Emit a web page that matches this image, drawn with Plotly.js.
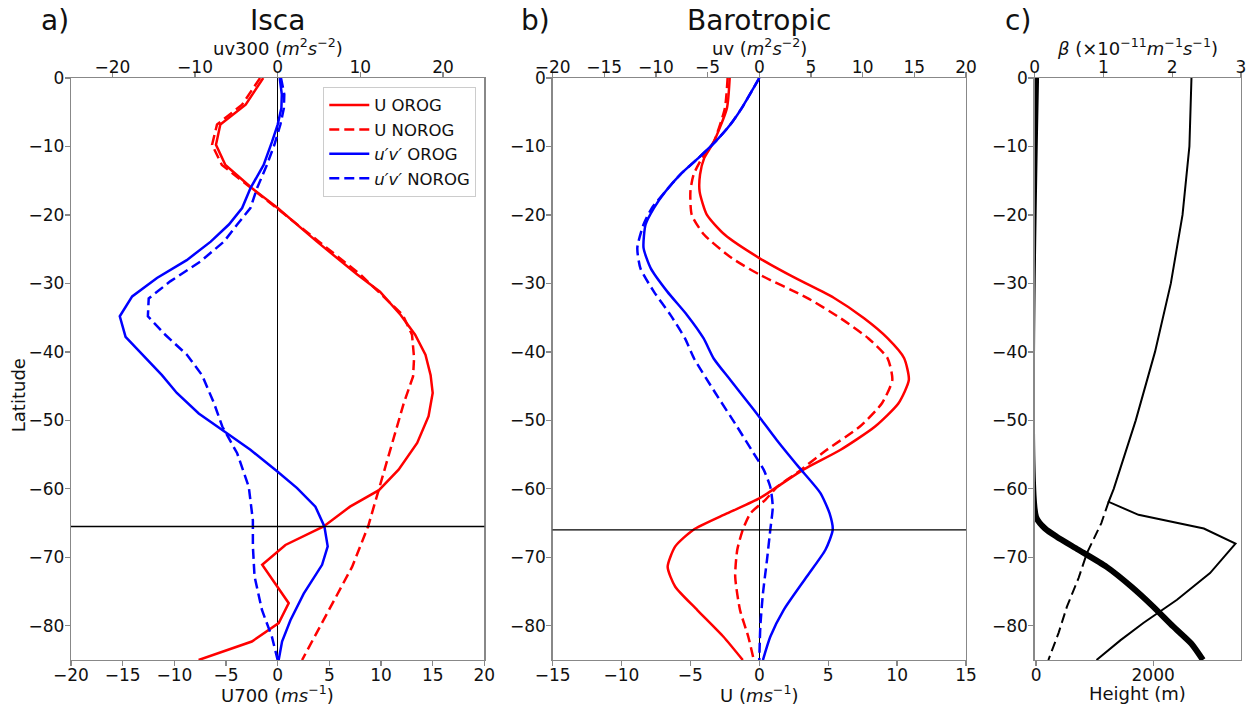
<!DOCTYPE html>
<html>
<head>
<meta charset="utf-8">
<script src="https://cdn.plot.ly/plotly-3.0.1.min.js"></script>
<style>html,body{margin:0;padding:0;background:#fff;}#chart{width:1253px;height:705px;}</style>
</head>
<body>
<div id="chart"></div>
<script>
// ---------- Panel a) Isca ----------
const aLatUOrog   = [0, -3.9, -6.8, -9.75, -12.7, -16.1, -19, -23.9, -28.7, -31.2, -34.6, -37.5, -40.4, -43.4, -46, -49.4, -53.3, -57.2, -60.2, -62.6, -65.5, -68.2, -71.1, -76.7, -79.6, -82.3, -85];
const aUOrog      = [-1.4, -3.1, -5.55, -5.97, -5.06, -2.48, 0, 3.8, 7.7, 9.9, 11.9, 13.3, 14.3, 14.8, 15.0, 14.6, 13.5, 11.7, 9.8, 7.0, 4.45, 0.75, -1.5, 1.07, 0.1, -2.5, -7.65];
const aLatUNorog  = [0, -3.9, -6.8, -9.75, -12.7, -16.1, -19, -23.9, -28.7, -34.6, -37.5, -40.9, -43.6, -47.5, -53.3, -60.2, -65.5, -71.4, -77.7, -85];
const aUNorog     = [-1.7, -3.45, -5.87, -6.35, -5.4, -2.6, -0.1, 4.0, 8.0, 12.1, 13.0, 13.2, 13.1, 12.2, 11.1, 9.8, 8.75, 7.2, 4.95, 2.36];
const aLatUvOrog  = [0, -2.4, -4.4, -6.8, -9.3, -12.7, -16.1, -19, -21.4, -23.9, -26.6, -29.2, -31.9, -34.8, -37.8, -40.9, -43.4, -46, -49, -51.4, -54.3, -57.5, -59.9, -62.6, -65.5, -68.4, -71.1, -75.3, -79.2, -82.3, -85];
const aUvOrog     = [0.25, 0.5, 0.45, 0, -0.68, -1.7, -3.3, -4.3, -5.9, -8.1, -11.0, -14.6, -17.6, -19.1, -18.4, -16.0, -14.0, -12.2, -9.55, -6.7, -3.3, 0, 2.35, 4.56, 5.65, 6.05, 5.37, 3.15, 1.54, 0.53, 0.12];
const aLatUvNorog = [0, -2.4, -4.4, -6.8, -9.75, -12.7, -16.1, -19, -21.4, -23.9, -26.8, -29.7, -32.2, -34.8, -37.5, -40.4, -43.4, -47.5, -50.9, -54.8, -59.7, -64.6, -68.4, -72.8, -77.7, -81.6, -85];
const aUvNorog    = [0.4, 0.8, 0.75, 0.33, -0.4, -1.3, -2.5, -3.3, -4.9, -6.5, -9.35, -13.0, -15.6, -15.7, -13.6, -11.0, -9.15, -7.7, -6.7, -4.9, -3.5, -3.0, -3.0, -2.8, -1.9, -0.7, 0];
const edgeLatA = -65.5;

// ---------- Panel b) Barotropic ----------
const bLatUOrog   = [0, -4.4, -9.3, -11.7, -14.1, -16.6, -20, -22.9, -26.3, -29.2, -32.1, -35.1, -38, -40.9, -44.1, -47.5, -50.9, -54.3, -57.2, -59.7, -61.4, -63.6, -66, -68.4, -71.4, -74.3, -77.7, -81.6, -85];
const bUOrog      = [-2.15, -2.35, -3.3, -4.0, -4.3, -4.33, -3.8, -2.5, 0, 2.6, 5.4, 7.6, 9.3, 10.5, 10.85, 10.1, 8.4, 5.9, 3.2, 1.3, 0, -2.35, -4.8, -6.1, -6.65, -6.1, -4.5, -2.6, -1.2];
const bLatUNorog  = [0, -4.4, -9.3, -11.7, -14.1, -16.6, -20, -22.9, -26.3, -28.7, -32.1, -35.1, -38, -40.9, -44.1, -47.5, -50.9, -54.3, -57.7, -59.7, -61.6, -63.6, -66, -68.9, -72.8, -77.7, -81.6, -85];
const bUNorog     = [-2.3, -2.5, -3.3, -4.15, -4.77, -5.0, -4.9, -4.0, -2.0, 0, 3.46, 5.9, 7.9, 9.3, 9.65, 8.9, 7.3, 4.9, 2.7, 1.3, 0.44, -0.65, -1.2, -1.6, -1.75, -1.4, -0.8, -0.4];
const bLatUvOrog  = [0, -4.4, -6.8, -9.3, -11.7, -14.1, -16.6, -19, -21.4, -24.8, -27.8, -31.2, -34.6, -38, -41, -44.1, -47.5, -49.5, -52.9, -56.8, -60.6, -63.6, -66, -68.9, -72.8, -77.7, -81.6, -85];
const bUvOrog     = [0, -1.7, -2.8, -4.25, -5.9, -7.65, -9.1, -10.2, -11.0, -11.2, -10.5, -8.9, -7.0, -5.4, -4.4, -2.8, -1.03, 0, 1.7, 3.8, 5.9, 6.8, 7.1, 6.4, 4.6, 2.35, 1.06, 0.35];
const bLatUvNorog = [0, -4.4, -6.8, -9.3, -11.7, -14.1, -16.6, -19, -21.4, -24.8, -27.8, -31.2, -34.6, -38, -41, -46, -50.9, -54.8, -57.2, -59.7, -62.6, -66, -70.4, -75.3, -80.1, -85];
const bUvNorog    = [0, -1.7, -2.8, -4.25, -5.9, -7.65, -9.1, -10.4, -11.2, -11.8, -11.5, -10.2, -8.6, -7.2, -6.3, -4.25, -2.16, -0.55, 0.42, 1.06, 1.3, 1.06, 0.74, 0.35, 0.1, 0];
const edgeLatB = -66;

// ---------- Panel c) ----------
const cLatHeight   = [0, -64.1, -65.8, -67, -68.9, -71.4, -74.3, -77.2, -80.1, -82.6, -85];
const cHeight      = [0, 0, 153, 352, 722, 1204, 1630, 2000, 2340, 2650, 2850];
const cLatBeta     = [0, -10, -20, -30, -40, -50, -60, -61.9, -63.8, -65.8, -68, -72.3, -76.2, -79.6, -82.1, -85];
const cBeta        = [2.28, 2.25, 2.15, 1.98, 1.75, 1.47, 1.15, 1.076, 1.51, 2.46, 2.92, 2.55, 2.07, 1.58, 1.25, 0.9];
const cLatBetaFlat = [-61.9, -65, -69.4, -73, -77.2, -81, -85];
const cBetaFlat    = [1.076, 0.97, 0.76, 0.64, 0.47, 0.35, 0.2];

const RED = '#ff0000', BLUE = '#0000ff', BLACK = '#000000';
const DASH = '10px,5px';
const LW = 2.5;

function tr(x, y, xa, ya, color, dash, name, show, width, shape) {
  return {
    type: 'scatter', mode: 'lines', x: x, y: y, xaxis: xa, yaxis: ya,
    line: {color: color, width: width || LW, dash: dash || 'solid', shape: shape || 'linear', smoothing: 0.6},
    name: name, showlegend: !!show, hoverinfo: 'x+y'
  };
}

const data = [
  tr(aUOrog, aLatUOrog, 'x', 'y', RED, 'solid', 'U OROG', true),
  tr(aUNorog, aLatUNorog, 'x', 'y', RED, DASH, 'U NOROG', true),
  tr(aUvOrog, aLatUvOrog, 'x2', 'y', BLUE, 'solid', '<i>u′v′</i> OROG', true),
  tr(aUvNorog, aLatUvNorog, 'x2', 'y', BLUE, DASH, '<i>u′v′</i> NOROG', true),

  tr(bUOrog, bLatUOrog, 'x3', 'y2', RED, 'solid', 'U OROG', false, LW, 'spline'),
  tr(bUNorog, bLatUNorog, 'x3', 'y2', RED, DASH, 'U NOROG', false, LW, 'spline'),
  tr(bUvOrog, bLatUvOrog, 'x4', 'y2', BLUE, 'solid', 'uv OROG', false, LW, 'spline'),
  tr(bUvNorog, bLatUvNorog, 'x4', 'y2', BLUE, DASH, 'uv NOROG', false, LW, 'spline'),

  tr(cHeight, cLatHeight, 'x5', 'y3', BLACK, 'solid', 'Height', false, 6, 'spline'),
  tr(cBeta, cLatBeta, 'x6', 'y3', BLACK, 'solid', 'beta', false, 2),
  tr(cBetaFlat, cLatBetaFlat, 'x6', 'y3', BLACK, DASH, 'beta flat', false, 2)
];

const FONT = 'DejaVu Sans';
const AX = '#888888';
function tf() { return {family: FONT, size: 17, color: '#111111'}; }

function xax(domain, range, extra) {
  return Object.assign({
    domain: domain, range: range, showgrid: false, zeroline: false,
    showline: true, linecolor: AX, linewidth: 1.3, mirror: true,
    ticks: 'outside', ticklen: 5, tickwidth: 1.3, tickcolor: AX, tickfont: tf(),
    ticklabelstandoff: -6
  }, extra);
}
function topax(over, anchor, range, extra) {
  return Object.assign({
    overlaying: over, anchor: anchor, side: 'top', range: range,
    showgrid: false, zeroline: false, showline: false,
    ticks: 'outside', ticklen: 5, tickwidth: 1.3, tickcolor: AX, tickfont: tf(),
    ticklabelstandoff: -8
  }, extra);
}
function yax(anchor) {
  return {
    anchor: anchor, domain: [0, 1], range: [-85, 0], dtick: 10, tick0: 0,
    showgrid: false, zeroline: false, showline: true, linecolor: AX, linewidth: 1.3, mirror: true,
    ticks: 'outside', ticklen: 5, tickwidth: 1.3, tickcolor: AX, tickfont: tf(),
    ticklabelstandoff: -3
  };
}

function ann(xref, x, y, text, size, xanchor, extra) {
  return Object.assign({
    xref: xref, x: x, yref: 'paper', y: y, text: text, showarrow: false,
    xanchor: xanchor || 'center', yanchor: 'middle',
    font: {family: FONT, size: size, color: '#111111'}
  }, extra || {});
}

const layout = {
  width: 1253, height: 705,
  margin: {l: 71, r: 12, t: 78, b: 45},
  paper_bgcolor: '#ffffff', plot_bgcolor: '#ffffff',
  font: {family: FONT, size: 17, color: '#111111'},
  showlegend: true,
  legend: {
    x: 0.3464, xanchor: 'right', y: 0.985, yanchor: 'top',
    bgcolor: 'rgba(255,255,255,0.85)', bordercolor: '#cccccc', borderwidth: 1,
    itemwidth: 40,
    font: {family: FONT, size: 16.5, color: '#111111'}
  },
  xaxis:  xax([0, 0.3533], [-20, 20], {anchor: 'y', dtick: 5, zeroline: true, zerolinecolor: BLACK, zerolinewidth: 1.3}),
  xaxis2: topax('x', 'y', [-25, 25], {dtick: 10, tick0: 0}),
  xaxis3: xax([0.4116, 0.765], [-15, 15], {anchor: 'y2', dtick: 5, zeroline: true, zerolinecolor: BLACK, zerolinewidth: 1.3}),
  xaxis4: topax('x3', 'y2', [-20, 20], {dtick: 5, tick0: 0}),
  xaxis5: xax([0.8236, 1], [-25, 3500], {anchor: 'y3', tickvals: [0, 2000], ticktext: ['0', '2000']}),
  xaxis6: topax('x5', 'y3', [0, 3], {dtick: 1, tick0: 0}),
  yaxis:  yax('x'),
  yaxis2: yax('x3'),
  yaxis3: yax('x5'),
  shapes: [
    {type: 'line', xref: 'x domain', x0: 0, x1: 1, yref: 'y', y0: edgeLatA, y1: edgeLatA, line: {color: BLACK, width: 1.3}},
    {type: 'line', xref: 'x3 domain', x0: 0, x1: 1, yref: 'y2', y0: edgeLatB, y1: edgeLatB, line: {color: BLACK, width: 1.3}}
  ],
  annotations: [
    ann('x domain', 0.5, 1.098, 'Isca', 28),
    ann('x3 domain', 0.5, 1.098, 'Barotropic', 28),
    ann('x domain', 0, 1.098, 'a)', 28, 'right'),
    ann('x3 domain', -0.002, 1.098, 'b)', 28, 'right'),
    ann('x5 domain', -0.01, 1.098, 'c)', 28, 'right'),
    ann('x domain', 0.5, 1.0533, 'uv300 (<i>m</i><sup>2</sup><i>s</i><sup>−2</sup>)', 18),
    ann('x3 domain', 0.5, 1.0533, 'uv (<i>m</i><sup>2</sup><i>s</i><sup>−2</sup>)', 18),
    ann('x5 domain', 0.5, 1.0533, '<i>β</i> (×10<sup>−11</sup><i>m</i><sup>−1</sup><i>s</i><sup>−1</sup>)', 18),
    ann('x domain', 0.5, -0.0584, 'U700 (<i>ms</i><sup>−1</sup>)', 18),
    ann('x3 domain', 0.5, -0.0584, 'U (<i>ms</i><sup>−1</sup>)', 18),
    ann('x5 domain', 0.5, -0.0584, 'Height (m)', 18),
    ann('paper', -0.0453, 0.455, 'Latitude', 18, 'center', {textangle: -90})
  ]
};

Plotly.newPlot('chart', data, layout, {displayModeBar: false, staticPlot: true});
</script>
</body>
</html>
